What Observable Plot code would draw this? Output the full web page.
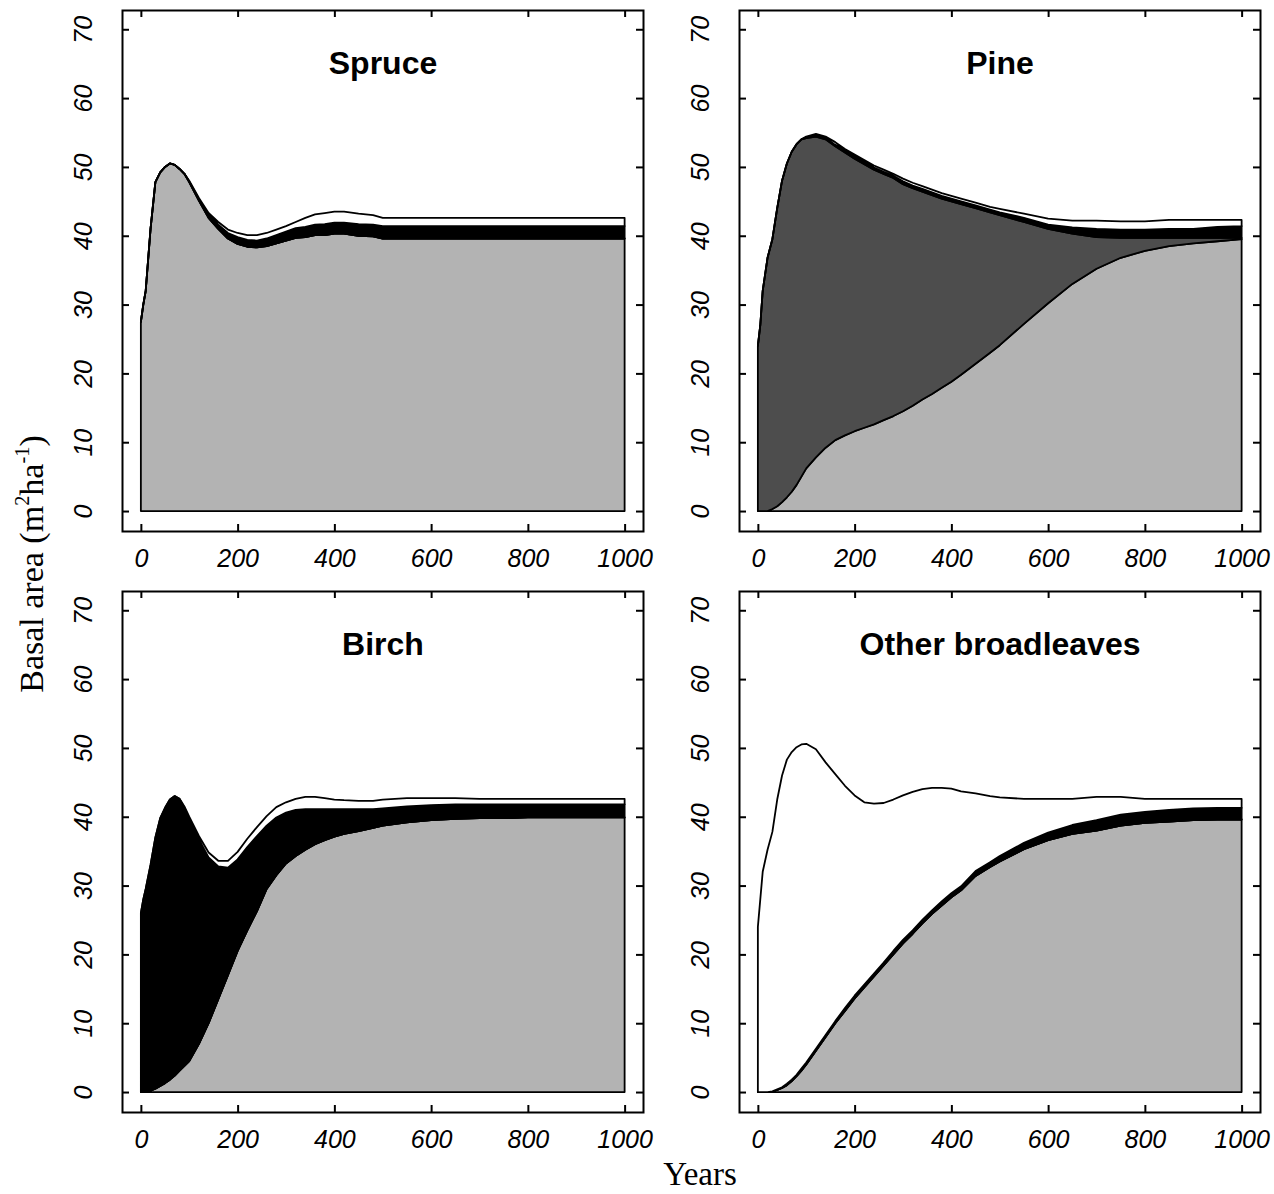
<!DOCTYPE html>
<html>
<head>
<meta charset="utf-8">
<script src="https://cdn.jsdelivr.net/npm/d3@7"></script>
<script src="https://cdn.jsdelivr.net/npm/@observablehq/plot@0.6"></script>
<style>
  body { margin: 0; background: #fff; }
  #root { position: relative; width: 1274px; height: 1194px; overflow: hidden; font-family: "Liberation Sans", Arial, sans-serif; }
  .panel { position: absolute; }
  .panel svg { background: transparent; overflow: visible; }
  #ylab { position: absolute; left: 32px; top: 564px; transform: translate(-50%, -50%) rotate(-90deg); white-space: nowrap;
          font-family: "Liberation Serif", "Times New Roman", serif; font-size: 34px; color: #000; }
  #xlab { position: absolute; left: 700px; top: 1158px; transform: translateX(-50%); white-space: nowrap;
          font-family: "Liberation Serif", "Times New Roman", serif; font-size: 33px; color: #000; line-height: 1; }
  sup { font-size: 0.6em; vertical-align: 0.7em; line-height: 0; }
</style>
</head>
<body>
<div id="root">
  <div id="ylab">Basal area (m<sup>2</sup>ha<sup>-1</sup>)</div>
  <div id="xlab">Years</div>
</div>
<script>
// ---------- data ----------
const years = [0,5,10,20,30,40,50,60,70,80,90,100,120,140,160,180,200,220,240,260,280,300,320,340,360,380,400,420,450,480,500,550,600,650,700,750,800,850,900,950,1000];
const species = ["Spruce", "Pine", "Birch", "Other broadleaves"];
const fills = ["#b3b3b3", "#4d4d4d", "#000000", "#ffffff"];
const titles = ["Spruce", "Pine", "Birch", "Other broadleaves"];
const xTicks = [0, 200, 400, 600, 800, 1000];
const yTicks = [0, 10, 20, 30, 40, 50, 60, 70];

// Panel 1: start with spruce
const p1Spruce = [27.5,30,32,41,47.8,49.2,50,50.5,50.3,49.7,49,47.8,45.1,42.6,41,39.6,38.8,38.4,38.3,38.5,38.9,39.3,39.7,39.8,40.1,40.1,40.3,40.3,40.0,39.9,39.6,39.6,39.6,39.6,39.6,39.6,39.6,39.6,39.6,39.6,39.6];
const p1Pine   = [0,0,0,0,0,0,0,0,0,0,0,0,0,0,0,0,0,0,0,0,0,0,0,0,0,0,0,0,0,0,0,0,0,0,0,0,0,0,0,0,0];
const p1Birch  = [0,0,0,0,0,0,0,0,0,0,0,0.1,0.2,0.4,0.6,0.8,1.0,1.0,1.0,1.1,1.2,1.3,1.4,1.5,1.5,1.6,1.6,1.6,1.7,1.7,1.8,1.8,1.8,1.8,1.8,1.8,1.8,1.8,1.8,1.8,1.8];
const p1Other  = [0,0,0,0,0,0,0,0,0,0,0,0.1,0.2,0.3,0.4,0.5,0.6,0.7,0.8,0.8,0.8,0.8,0.9,1.3,1.5,1.6,1.6,1.6,1.5,1.4,1.2,1.2,1.2,1.2,1.2,1.2,1.2,1.2,1.2,1.2,1.2];

// Panel 2: start with pine
const p2Spruce = [0,0,0,0,0.3,0.7,1.3,2,2.8,3.8,5,6.2,7.8,9.2,10.3,11,11.6,12.1,12.6,13.2,13.8,14.5,15.3,16.2,17,17.9,18.8,19.8,21.4,23.0,24.1,27.2,30.2,33,35.2,36.8,37.8,38.5,38.9,39.2,39.5];
const p2Pine   = [24,27,32,36.8,39.2,43.3,46.7,48.5,49.4,49.5,49.0,48.0,46.6,44.8,42.7,41.1,39.6,38.3,37.0,35.8,34.6,33.0,31.6,30.2,28.9,27.5,26.2,24.8,22.6,20.4,18.9,14.8,10.8,7.3,4.6,2.9,1.9,1.2,0.8,0.5,0.2];
const p2Birch  = [0,0,0,0,0,0,0,0,0,0,0,0.1,0.2,0.2,0.2,0.3,0.3,0.3,0.3,0.3,0.3,0.4,0.4,0.4,0.4,0.4,0.4,0.4,0.4,0.4,0.4,0.6,0.6,0.9,1.2,1.2,1.2,1.3,1.3,1.6,1.7];
const p2Other  = [0,0,0,0,0,0,0,0,0,0,0,0.1,0.2,0.2,0.4,0.2,0.3,0.3,0.3,0.3,0.3,0.4,0.4,0.4,0.4,0.4,0.4,0.4,0.4,0.4,0.5,0.6,0.9,1.0,1.2,1.2,1.2,1.3,1.3,1.0,0.9];

// Panel 3: start with birch
const p3Spruce = [0,0,0,0.2,0.5,0.9,1.3,1.8,2.4,3.1,3.8,4.5,7,10,13.5,17,20.5,23.5,26.3,29.5,31.5,33.2,34.3,35.2,36,36.6,37.1,37.5,37.9,38.4,38.7,39.2,39.5,39.7,39.8,39.8,39.9,39.9,39.9,39.9,39.9];
const p3Pine   = [0,0,0,0,0,0,0,0,0,0,0,0,0,0,0,0,0,0,0,0,0,0,0,0,0,0,0,0,0,0,0,0,0,0,0,0,0,0,0,0,0];
const p3Birch  = [26,28,29.5,32.8,36.5,38.9,40,40.7,40.6,39.5,37.5,35.2,29.7,24.1,19.3,15.6,13.3,12.1,10.9,9.2,8.4,7.4,6.7,5.9,5.1,4.5,4.0,3.6,3.2,2.7,2.5,2.3,2.2,2.1,2.0,2.0,1.9,1.9,1.9,1.9,1.9];
const p3Other  = [0,0,0,0,0,0,0,0,0,0,0.2,0.3,0.5,0.7,0.8,1.0,1.1,1.2,1.3,1.4,1.5,1.5,1.6,1.8,1.8,1.6,1.4,1.3,1.2,1.2,1.3,1.2,1.0,0.9,0.8,0.8,0.8,0.8,0.8,0.8,0.8];

// Panel 4: start with other broadleaves
const p4Spruce = [0,0,0,0,0.1,0.3,0.6,1,1.6,2.3,3.1,4,6,8,10,11.8,13.6,15.2,16.8,18.4,20,21.6,23,24.5,25.9,27.1,28.3,29.3,31.4,32.7,33.5,35.3,36.6,37.5,38,38.7,39.1,39.3,39.5,39.6,39.6];
const p4Pine   = [0,0,0,0,0,0,0,0,0,0,0,0,0,0,0,0,0,0,0,0,0,0,0,0,0,0,0,0,0,0,0,0,0,0,0,0,0,0,0,0,0];
const p4Birch  = [0,0,0,0,0,0.1,0.1,0.2,0.2,0.2,0.3,0.3,0.3,0.3,0.3,0.4,0.4,0.4,0.4,0.4,0.5,0.5,0.5,0.5,0.5,0.6,0.6,0.6,0.7,0.7,0.8,0.9,1.1,1.3,1.5,1.6,1.6,1.7,1.7,1.7,1.7];
const p4Other  = [24,28,32,35.2,37.7,42.1,45.3,47.1,47.6,47.6,47.1,46.3,43.5,39.6,35.9,32.3,29.1,26.5,24.7,23.2,22,21,20.1,19,17.8,16.5,15.2,13.8,11.3,9.6,8.5,6.4,4.9,3.8,3.4,2.6,1.9,1.6,1.4,1.3,1.3];

// ---------- drawing ----------
const PW = 521, PH = 521, ML = 80, MR = 10, MT = 10, MB = 60;
const panels = [
  {title: titles[0], series: [p1Spruce, p1Pine, p1Birch, p1Other], left: 42, top: 0},
  {title: titles[1], series: [p2Spruce, p2Pine, p2Birch, p2Other], left: 659, top: 0},
  {title: titles[2], series: [p3Spruce, p3Pine, p3Birch, p3Other], left: 42, top: 581},
  {title: titles[3], series: [p4Spruce, p4Pine, p4Birch, p4Other], left: 659, top: 581}
];

const root = document.getElementById("root");
const tickFont = {fontSize: 25, fontStyle: "italic"};

for (const p of panels) {
  const data = [];
  species.forEach((sp, i) => p.series[i].forEach((v, j) => data.push({year: years[j], value: v, species: sp})));
  const chart = Plot.plot({
    width: ML + PW + MR,
    height: MT + PH + MB,
    marginLeft: ML, marginRight: MR, marginTop: MT, marginBottom: MB,
    x: {domain: [-39, 1038], label: null},
    y: {domain: [-2.9, 72.8], label: null},
    color: {domain: species, range: fills},
    style: {fontFamily: "'Liberation Sans', Arial, sans-serif", background: "transparent", color: "black"},
    marks: [
      Plot.areaY(data, Plot.stackY({
        x: "year", y: "value", z: "species", fill: "species", order: species,
        stroke: "black", strokeWidth: 1.8, strokeLinejoin: "round"
      })),
      Plot.frame({stroke: "black", strokeWidth: 2}),
      Plot.tickY(yTicks, {y: d => d, insetRight: PW - 7, stroke: "black", strokeWidth: 2}),
      Plot.tickY(yTicks, {y: d => d, insetLeft: PW - 7, stroke: "black", strokeWidth: 2}),
      Plot.tickX(xTicks, {x: d => d, insetTop: PH - 7, stroke: "black", strokeWidth: 2}),
      Plot.tickX(xTicks, {x: d => d, insetBottom: PH - 7, stroke: "black", strokeWidth: 2}),
      Plot.axisX(xTicks, {anchor: "bottom", tickSize: 0, tickPadding: 18, label: null, tickFormat: d => String(d), ...tickFont}),
      Plot.axisY(yTicks, {anchor: "left", tickSize: 0, tickPadding: 31, tickRotate: -90, textAnchor: "middle", lineAnchor: "bottom", label: null, tickFormat: d => String(d), ...tickFont}),
      Plot.text([p.title], {frameAnchor: "top", dy: 41, lineAnchor: "top", fontSize: 32, fontWeight: "bold"})
    ]
  });
  const div = document.createElement("div");
  div.className = "panel";
  div.style.left = p.left + "px";
  div.style.top = p.top + "px";
  div.appendChild(chart);
  root.appendChild(div);
}
</script>
</body>
</html>
